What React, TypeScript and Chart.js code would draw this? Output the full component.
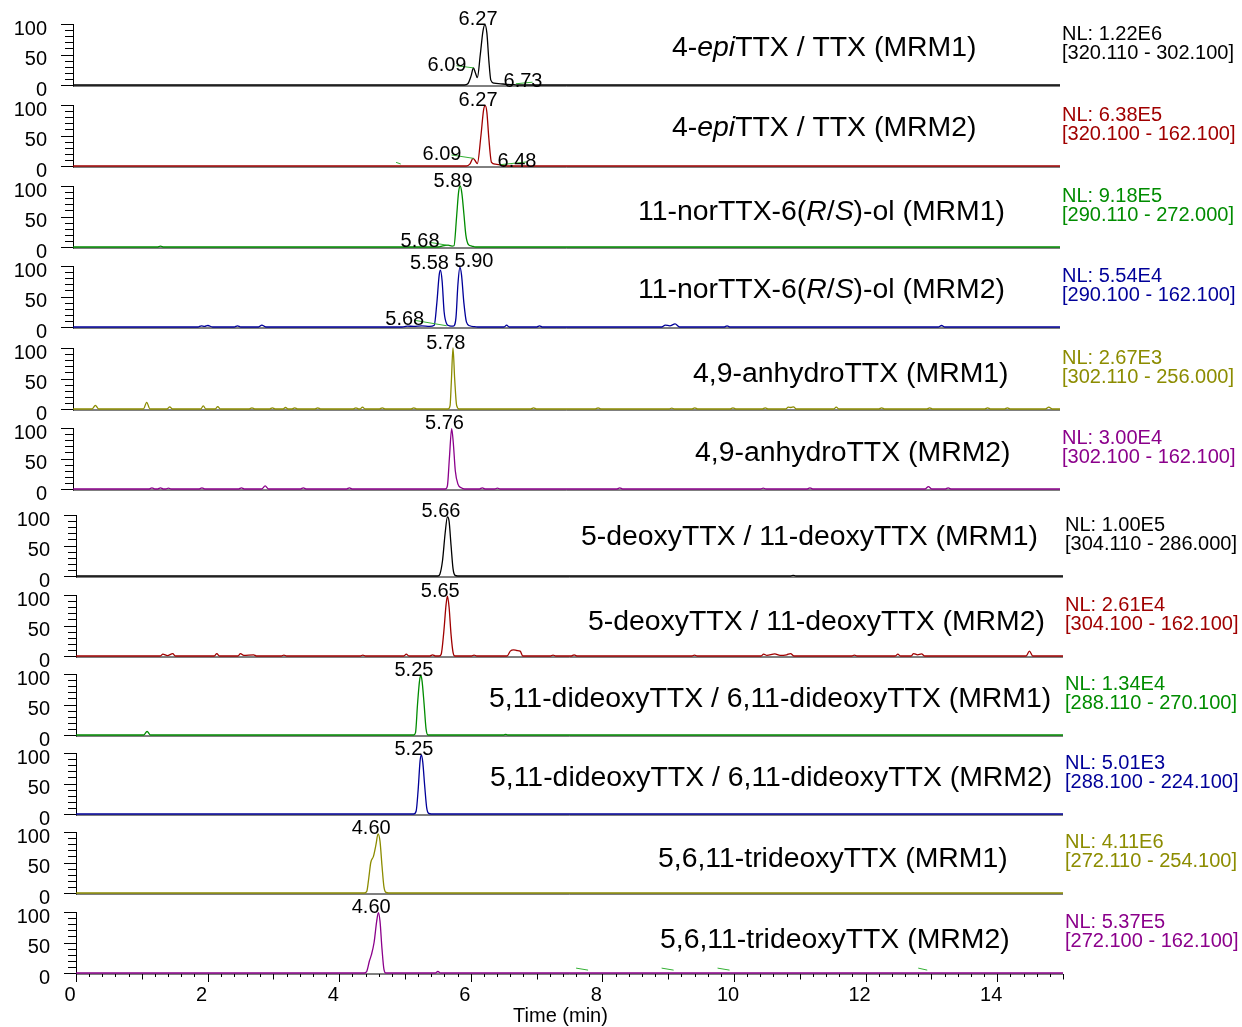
import React, { useEffect, useRef } from 'react';
import { Chart, registerables } from 'chart.js';

Chart.register(...registerables);

const FONT = "'Liberation Sans', Arial, Helvetica, sans-serif";

// ---------------- DATA ----------------
const timeMin = 0;
const timeMax = 15;

const trace1 = [[0,0],[5.95,0],[6.0,2],[6.05,15],[6.085,28],[6.115,20],[6.145,12],[6.19,50],[6.23,88],[6.26,99],[6.29,85],[6.32,40],[6.35,8],[6.4,3],[6.5,2],[6.6,1],[6.7,0.5],[6.78,0],[15,0]];
const trace2 = [[0,0],[5.98,0],[6.03,3],[6.08,12.5],[6.11,9],[6.145,4],[6.2,50],[6.24,92],[6.265,99],[6.29,88],[6.32,45],[6.36,6],[6.42,3],[6.5,1.5],[6.6,0],[15,0]];
const trace3 = [[0,0],[1.28,0],[1.33,1.5],[1.38,0],[5.55,0],[5.62,2],[5.7,3],[5.76,1.5],[5.79,2],[5.83,50],[5.86,90],[5.885,100],[5.91,88],[5.94,55],[5.97,20],[6.01,4],[6.06,1.5],[6.12,0],[15,0]];
const trace4 = [[0,0],[1.9,0],[1.95,2],[2.0,1],[2.05,2.5],[2.12,0],[2.45,0],[2.5,2],[2.55,0],[2.82,0],[2.87,3],[2.93,0],[5.0,0],[5.08,1.5],[5.18,1],[5.3,2],[5.42,1],[5.49,3],[5.53,40],[5.565,85],[5.585,93],[5.61,75],[5.64,25],[5.68,5],[5.72,2],[5.78,1.5],[5.82,15],[5.85,70],[5.88,98],[5.905,85],[5.94,40],[5.98,8],[6.03,2],[6.1,0.5],[6.15,0],[6.55,0],[6.59,3],[6.63,0],[7.05,0],[7.09,2],[7.13,0],[8.95,0],[9.0,3],[9.07,2],[9.15,5],[9.22,0],[9.9,0],[9.94,2],[9.98,0],[13.15,0],[13.2,2.5],[13.25,0],[15,0]];
const trace5 = [[0,0],[0.29,0],[0.34,6],[0.39,0],[1.07,0],[1.12,11],[1.17,0],[1.43,0],[1.47,3.5],[1.51,0],[1.94,0],[1.98,5],[2.02,0],[2.16,0],[2.2,4],[2.24,0],[2.68,0],[2.72,2],[2.76,0],[2.99,0],[3.03,2],[3.07,0],[3.19,0],[3.23,2.5],[3.27,0],[3.33,0],[3.37,2],[3.41,0],[3.68,0],[3.72,2],[3.76,0],[4.26,0],[4.3,2],[4.34,0],[4.36,0],[4.4,3],[4.44,0],[4.66,0],[4.7,2],[4.74,0],[5.14,0],[5.18,2],[5.22,0],[5.7,0],[5.73,5],[5.75,45],[5.775,100],[5.8,50],[5.83,6],[5.87,0],[6.96,0],[7.0,2],[7.04,0],[7.94,0],[7.98,2],[8.02,0],[9.06,0],[9.1,1.5],[9.14,0],[9.41,0],[9.45,2],[9.49,0],[9.99,0],[10.03,2],[10.07,0],[10.48,0],[10.52,2],[10.56,0],[10.83,0],[10.87,3],[10.91,2.5],[10.95,3.5],[10.99,0],[11.56,0],[11.6,3],[11.64,0],[12.25,0],[12.29,2],[12.33,0],[12.98,0],[13.02,2],[13.06,0],[13.86,0],[13.9,2],[13.94,0],[14.16,0],[14.2,2],[14.24,0],[14.78,0],[14.83,3],[14.88,0],[15,0]];
const trace6 = [[0,0],[1.16,0],[1.2,2],[1.24,0],[1.29,0],[1.33,2],[1.37,0],[1.41,0],[1.45,1.5],[1.49,0],[1.92,0],[1.96,2],[2.0,0],[2.52,0],[2.56,2],[2.6,0],[2.87,0],[2.92,5],[2.97,0],[3.46,0],[3.5,2],[3.54,0],[4.16,0],[4.2,2],[4.24,0],[5.66,0],[5.69,5],[5.72,50],[5.755,99],[5.78,75],[5.81,30],[5.85,8],[5.9,2],[5.95,0],[6.18,0],[6.22,2],[6.26,0],[6.41,0],[6.45,1.5],[6.49,0],[8.27,0],[8.31,2],[8.35,0],[10.45,0],[10.49,1.5],[10.53,0],[11.16,0],[11.2,2],[11.24,0],[12.95,0],[13.0,4],[13.05,0],[13.26,0],[13.3,2],[13.34,0],[15,0]];
const trace7 = [[0,0],[5.5,0],[5.53,3],[5.57,25],[5.61,70],[5.645,97],[5.67,90],[5.7,50],[5.73,12],[5.76,1],[5.8,0],[10.86,0],[10.9,1],[10.94,0],[15,0]];
const trace8 = [[0,0],[1.28,0],[1.32,3],[1.39,0.5],[1.47,4],[1.51,0],[2.1,0],[2.14,4],[2.18,0],[2.46,0],[2.5,4],[2.55,1],[2.7,2],[2.74,0],[3.12,0],[3.16,1.5],[3.2,0],[4.32,0],[4.36,1.5],[4.4,0],[4.98,0],[5.02,3],[5.06,0],[5.38,0],[5.42,2],[5.46,0],[5.52,0],[5.55,3],[5.59,40],[5.625,85],[5.645,98],[5.67,80],[5.7,35],[5.73,6],[5.76,0],[6.01,0],[6.05,1.5],[6.09,0],[6.55,0],[6.6,8],[6.65,10],[6.7,9],[6.75,8],[6.79,0],[7.21,0],[7.25,1.5],[7.29,0],[7.53,0],[7.57,2],[7.61,0],[9.36,0],[9.4,1.5],[9.44,0],[10.41,0],[10.45,3],[10.5,1],[10.62,3.5],[10.7,1],[10.8,2],[10.86,4],[10.91,0],[11.79,0],[11.83,1.5],[11.87,0],[12.45,0],[12.49,3],[12.53,0],[12.69,0],[12.73,4],[12.79,2],[12.85,3.5],[12.9,0],[14.44,0],[14.49,8],[14.54,0],[15,0]];
const trace9 = [[0,0],[1.03,0],[1.08,6],[1.13,0],[5.13,0],[5.16,4],[5.19,50],[5.22,88],[5.24,98],[5.26,88],[5.29,51],[5.32,10],[5.35,0],[6.5,0],[6.53,1],[6.56,0],[15,0]];
const trace10 = [[0,0],[5.13,0],[5.17,5],[5.2,40],[5.23,88],[5.25,97],[5.27,85],[5.3,45],[5.33,10],[5.36,1],[5.4,0],[15,0]];
const trace11 = [[0,0],[4.38,0],[4.42,3],[4.45,25],[4.48,50],[4.52,60],[4.56,80],[4.59,97],[4.62,85],[4.65,45],[4.68,10],[4.71,1],[4.75,0],[15,0]];
const trace12 = [[0,0],[4.38,0],[4.42,3],[4.46,20],[4.49,30],[4.53,50],[4.57,85],[4.595,99],[4.62,85],[4.65,40],[4.68,6],[4.71,0],[5.46,0],[5.5,2.5],[5.54,0],[15,0]];

const panelTraces = [trace1, trace2, trace3, trace4, trace5, trace6, trace7, trace8, trace9, trace10, trace11, trace12];

const panelTitles: [string, boolean][][] = [
  [["4-", false], ["epi", true], ["TTX / TTX (MRM1)", false]],
  [["4-", false], ["epi", true], ["TTX / TTX (MRM2)", false]],
  [["11-norTTX-6(", false], ["R", true], ["/", false], ["S", true], [")-ol (MRM1)", false]],
  [["11-norTTX-6(", false], ["R", true], ["/", false], ["S", true], [")-ol (MRM2)", false]],
  [["4,9-anhydroTTX (MRM1)", false]],
  [["4,9-anhydroTTX (MRM2)", false]],
  [["5-deoxyTTX / 11-deoxyTTX (MRM1)", false]],
  [["5-deoxyTTX / 11-deoxyTTX (MRM2)", false]],
  [["5,11-dideoxyTTX / 6,11-dideoxyTTX (MRM1)", false]],
  [["5,11-dideoxyTTX / 6,11-dideoxyTTX (MRM2)", false]],
  [["5,6,11-trideoxyTTX (MRM1)", false]],
  [["5,6,11-trideoxyTTX (MRM2)", false]],
];

const nlLevels = ["NL: 1.22E6", "NL: 6.38E5", "NL: 9.18E5", "NL: 5.54E4", "NL: 2.67E3", "NL: 3.00E4", "NL: 1.00E5", "NL: 2.61E4", "NL: 1.34E4", "NL: 5.01E3", "NL: 4.11E6", "NL: 5.37E5"];
const massRanges = ["[320.110 - 302.100]", "[320.100 - 162.100]", "[290.110 - 272.000]", "[290.100 - 162.100]", "[302.110 - 256.000]", "[302.100 - 162.100]", "[304.110 - 286.000]", "[304.100 - 162.100]", "[288.110 - 270.100]", "[288.100 - 224.100]", "[272.110 - 254.100]", "[272.100 - 162.100]"];

// peak labels: [retention time, peak height %]
const peakLabels = [
  [[6.27, 99], [6.09, 28], [6.73, 2]],
  [[6.27, 99], [6.09, 12.5], [6.48, 2]],
  [[5.89, 100], [5.68, 3]],
  [[5.58, 93], [5.90, 98], [5.68, 2]],
  [[5.78, 100]],
  [[5.76, 99]],
  [[5.66, 97]],
  [[5.65, 98]],
  [[5.25, 98]],
  [[5.25, 97]],
  [[4.60, 97]],
  [[4.60, 99]],
];

// ---------------- STYLE / LAYOUT ----------------
const BLACK = '#000000';
const RED = '#a00000';
const GREEN = '#008c00';
const BLUE = '#000099';
const OLIVE = '#8c8c00';
const PURPLE = '#8b008b';
const LEADER = '#33b033';
const panelColors = [BLACK, RED, GREEN, BLUE, OLIVE, PURPLE, BLACK, RED, GREEN, BLUE, OLIVE, PURPLE];

// label offsets in px: [dx, dy, hasLeader]
const MAIN = [-7.5, -6.5, 0];
const labelOffsets = [
  [MAIN, [-26.7, -4.2, 1], [7.2, -3.6, 1]],
  [MAIN, [-31.7, -5.4, 1], [17.6, -4.8, 1]],
  [MAIN, [-26.7, -4.9, 1]],
  [[-10.7, -8, 0], [12.8, -6.9, 0], [-42, -7.5, 1]],
  [MAIN], [MAIN], [MAIN], [MAIN], [MAIN], [MAIN], [MAIN], [MAIN],
];
// stray leader stubs: [t, h, dxPx, dyPx]
const stubs: number[][][] = [
  [], [[4.91, 6, 4.7, 1.7]], [], [], [], [], [], [], [], [], [],
  [[7.6, 8, 12, 2], [8.9, 8, 12, 2], [9.75, 8, 12, 2], [12.8, 8, 9, 2]],
];

const W = 1242;
const ZERO_Y = [85, 166, 247, 327, 409, 489, 576, 656, 735, 814, 893, 973];
const X0 = [73, 73, 73, 73, 73, 73, 76, 76, 76, 76, 76, 76];
const PLOT_W = 987;
const PLOT_H = 61;
const TOP_PAD = 30;
const BOTTOM_PAD = 14;
const X_AXIS_H = 54;
const TITLE_X = [672, 672, 638, 638, 693, 695, 581, 588, 489, 490, 658, 660];
const TITLE_DY = [-39, -40, -37, -39, -37, -38, -41, -36, -38, -38, -36, -35];
const TITLE_SIZE = 28.4;
const SMALL = 20;

function Panel({ i }: { i: number }) {
  const ref = useRef<HTMLCanvasElement>(null);
  const last = i === panelTraces.length - 1;
  const x0 = X0[i];
  const h = TOP_PAD + PLOT_H + (last ? X_AXIS_H : BOTTOM_PAD);
  const top = ZERO_Y[i] - PLOT_H - TOP_PAD;

  useEffect(() => {
    const canvas = ref.current;
    if (!canvas) return;
    const color = panelColors[i];

    const decor = {
      id: 'decor' + i,
      beforeDatasetsDraw(chart: any) {
        const ctx = chart.ctx as CanvasRenderingContext2D;
        const xs = chart.scales.x;
        const ys = chart.scales.y;
        const left = chart.chartArea.left;
        const right = chart.chartArea.right;
        const yb = ys.getPixelForValue(0);
        const yt = ys.getPixelForValue(100);
        ctx.save();
        ctx.strokeStyle = '#000';
        ctx.lineWidth = 1;
        ctx.beginPath();
        ctx.moveTo(left, yb + 1);
        ctx.lineTo(right, yb + 1);
        ctx.stroke();
        ctx.beginPath();
        ctx.moveTo(left + 0.5, yt);
        ctx.lineTo(left + 0.5, yb + 1.5);
        ctx.stroke();
        for (let v = 0; v <= 100; v += 10) {
          const y = Math.round(ys.getPixelForValue(v)) + 0.5;
          const len = v % 50 === 0 ? 12 : 8;
          ctx.beginPath();
          ctx.moveTo(left - len, y);
          ctx.lineTo(left + 1, y);
          ctx.stroke();
        }
        if (last) {
          for (let k = 0; k <= 75; k++) {
            const x = Math.round(xs.getPixelForValue(k * 0.2)) + 0.5;
            const len = k % 10 === 0 ? 8 : k % 5 === 0 ? 5.5 : 3;
            ctx.beginPath();
            ctx.moveTo(x, yb + 1);
            ctx.lineTo(x, yb + 1 + len);
            ctx.stroke();
          }
        }
        ctx.restore();
      },
      afterDatasetsDraw(chart: any) {
        const ctx = chart.ctx as CanvasRenderingContext2D;
        const xs = chart.scales.x;
        const ys = chart.scales.y;
        const yb = ys.getPixelForValue(0);
        ctx.save();
        // title
        let tx = TITLE_X[i];
        const ty = yb + TITLE_DY[i] + 0.358 * TITLE_SIZE;
        ctx.fillStyle = '#000';
        ctx.textBaseline = 'alphabetic';
        ctx.textAlign = 'left';
        for (const [txt, it] of panelTitles[i]) {
          ctx.font = `${it ? 'italic ' : ''}${TITLE_SIZE}px ${FONT}`;
          ctx.fillText(txt, tx, ty);
          tx += ctx.measureText(txt).width;
        }
        // NL text
        ctx.font = `${SMALL}px ${FONT}`;
        ctx.fillStyle = color;
        const nx = chart.chartArea.right + 2;
        ctx.fillText(nlLevels[i], nx, yb - 52 + 0.358 * SMALL);
        ctx.fillText(massRanges[i], nx, yb - 33 + 0.358 * SMALL);
        // peak labels
        ctx.textAlign = 'center';
        ctx.fillStyle = '#000';
        peakLabels[i].forEach(([rt, ph], j) => {
          const [dx, dy, leader] = labelOffsets[i][j];
          const px = xs.getPixelForValue(rt);
          const py = ys.getPixelForValue(ph);
          const cx = px + dx;
          const cy = py + dy;
          if (leader) {
            ctx.strokeStyle = LEADER;
            ctx.lineWidth = 1;
            ctx.beginPath();
            ctx.moveTo(cx + 9.5, cy + 2);
            ctx.lineTo(px, py);
            ctx.stroke();
          }
          ctx.fillText(rt.toFixed(2), cx, cy + 0.358 * SMALL);
        });
        ctx.strokeStyle = LEADER;
        ctx.lineWidth = 1;
        for (const [t, hh, dx, dy] of stubs[i]) {
          const px = xs.getPixelForValue(t);
          const py = ys.getPixelForValue(hh);
          ctx.beginPath();
          ctx.moveTo(px, py);
          ctx.lineTo(px + dx, py + dy);
          ctx.stroke();
        }
        if (last) {
          ctx.fillStyle = '#000';
          ctx.textAlign = 'center';
          ctx.font = `${SMALL}px ${FONT}`;
          ctx.fillText('Time (min)', xs.getPixelForValue(7.5) - 9, yb + 42 + 0.358 * SMALL);
        }
        ctx.restore();
      },
    };

    const chart = new Chart(canvas, {
      type: 'line',
      data: {
        datasets: [
          {
            data: panelTraces[i] as any,
            borderColor: color,
            borderWidth: 1.3,
            pointRadius: 0,
            fill: false,
            cubicInterpolationMode: 'monotone',
            clip: false as any,
          } as any,
        ],
      },
      options: {
        responsive: false,
        animation: false,
        events: [],
        layout: { padding: { top: TOP_PAD, right: W - (x0 + PLOT_W), bottom: last ? 0 : BOTTOM_PAD, left: 0 } },
        plugins: { legend: { display: false }, tooltip: { enabled: false } },
        scales: {
          x: {
            type: 'linear',
            min: timeMin,
            max: timeMax,
            display: last,
            grid: { display: false, drawTicks: false },
            border: { display: false },
            ticks: {
              stepSize: 1,
              maxTicksLimit: 1000,
              autoSkip: false,
              maxRotation: 0,
              padding: 10,
              labelOffset: -6,
              color: '#000',
              font: { size: SMALL, family: FONT },
              callback: (v: any) => {
                const n = Number(v);
                return Math.abs(n - Math.round(n)) < 1e-6 && Math.round(n) % 2 === 0 ? String(Math.round(n)) : '';
              },
            },
            afterFit: (s: any) => {
              if (last) s.height = X_AXIS_H;
              s.paddingLeft = 0;
              s.paddingRight = 0;
              s.paddingTop = 0;
              s.paddingBottom = 0;
            },
          },
          y: {
            type: 'linear',
            min: 0,
            max: 100,
            grid: { display: false, drawTicks: false },
            border: { display: false },
            ticks: {
              stepSize: 10,
              autoSkip: false,
              padding: 26,
              labelOffset: 5,
              color: '#000',
              font: { size: SMALL, family: FONT },
              callback: (v: any) => (Number(v) % 50 === 0 ? String(v) : ''),
            },
            afterFit: (s: any) => {
              s.width = x0;
              s.paddingTop = 0;
              s.paddingBottom = 0;
              s.paddingLeft = 0;
              s.paddingRight = 0;
            },
          },
        },
      },
      plugins: [decor],
    } as any);
    return () => chart.destroy();
  }, [i]);

  return (
    <canvas
      ref={ref}
      width={W}
      height={h}
      style={{ position: 'absolute', left: 0, top, width: W, height: h }}
    />
  );
}

export default function App() {
  return (
    <div style={{ position: 'absolute', left: 0, top: 0, width: W, height: 1027, background: '#fff', overflow: 'hidden' }}>
      {panelTraces.map((_, i) => (
        <Panel key={i} i={i} />
      ))}
    </div>
  );
}
